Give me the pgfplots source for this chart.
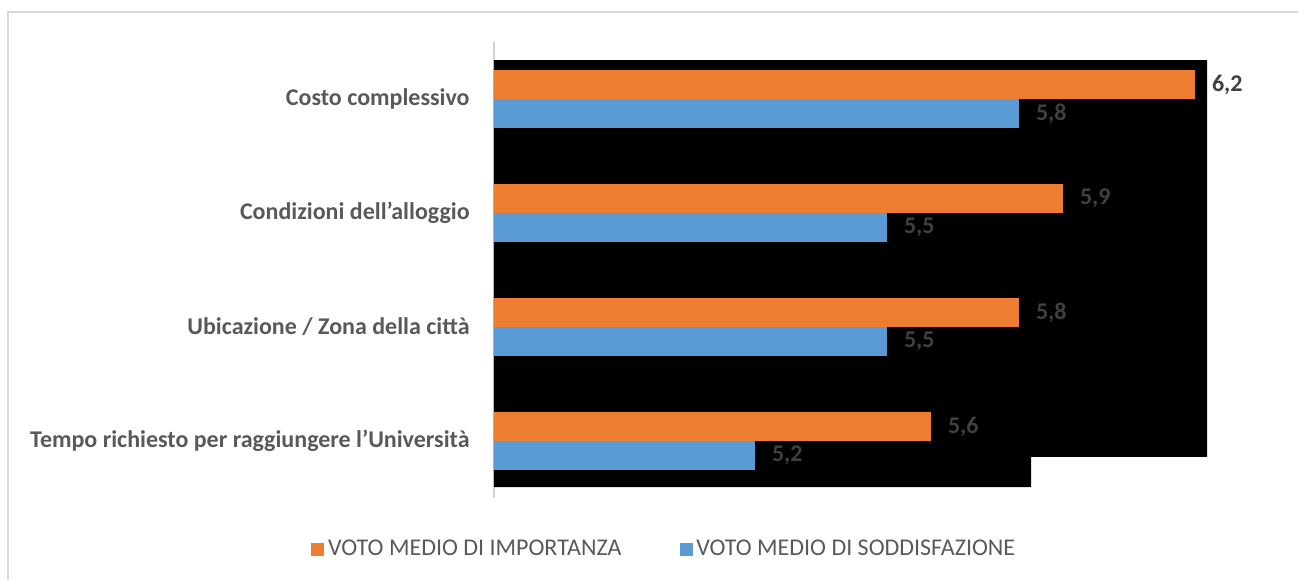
\documentclass[border=0pt]{standalone}
\usepackage{fontspec}
\setmainfont{Carlito}
\usepackage{pgfplots}
\pgfplotsset{compat=1.18}
\definecolor{imporange}{HTML}{ED7D31}
\definecolor{soddblue}{HTML}{5B9BD5}
\definecolor{labgray}{HTML}{595959}
\definecolor{valgray}{HTML}{404040}
\definecolor{framegray}{HTML}{D9D9D9}

\begin{document}
\begin{tikzpicture}
\useasboundingbox (0,0) rectangle (649pt,290pt);
% faint chart frame (left and top only are visible)
\draw[framegray, line width=0.8pt] (4pt,0pt) -- (4pt,284pt) -- (649pt,284pt);
\begin{axis}[
  at={(247pt,41pt)}, anchor=south west,
  scale only axis, width=372.5pt, height=228pt,
  xmin=4.607, xmax=6.3, ymin=-0.5, ymax=3.5,
  hide x axis,
  axis y line*=left,
  y axis line style={-, draw=gray!35, line width=0.8pt},
  ytick={0,1,2,3},
  yticklabels={Tempo richiesto per raggiungere l’Università,
               Ubicazione / Zona della città,
               Condizioni dell’alloggio,
               Costo complessivo},
  major tick length=0pt,
  yticklabel style={font=\fontsize{12}{14}\selectfont\bfseries, text=labgray,
                    anchor=east, inner sep=0pt, xshift=-12pt},
  clip=false,
  legend style={at={(0.230,-0.112)}, anchor=center, draw=none, fill=none,
                legend columns=2, font=\fontsize{12}{14}\selectfont,
                text=labgray,
                /tikz/every even column/.append style={column sep=27pt}},
  legend cell align=left,
]
% dark background block behind the bars, as in the reference
\addplot[fill=black, draw=none, forget plot]
  coordinates {(4.607,3.342) (6.2275,3.342) (6.2275,-0.140)
               (5.8275,-0.140) (5.8275,-0.404) (4.607,-0.404)};
\addplot[xbar, bar width=0.254, bar shift=0.127, fill=imporange, draw=none,
  forget plot, point meta=x,
  nodes near coords={\pgfmathprintnumber[fixed,precision=1,fixed zerofill,use comma,assume math mode=true]{\pgfplotspointmeta}},
  every node near coord/.append style={anchor=west, xshift=5pt, yshift=7.25pt,
    font=\fontsize{12}{14}\selectfont\bfseries, text=valgray}]
  coordinates {(5.6,0) (5.8,1) (5.9,2) (6.2,3)};
\addplot[xbar, bar width=0.254, bar shift=-0.127, fill=soddblue, draw=none,
  forget plot, point meta=x,
  nodes near coords={\pgfmathprintnumber[fixed,precision=1,fixed zerofill,use comma,assume math mode=true]{\pgfplotspointmeta}},
  every node near coord/.append style={anchor=west, xshift=5pt, yshift=-7.25pt,
    font=\fontsize{12}{14}\selectfont\bfseries, text=valgray}]
  coordinates {(5.2,0) (5.5,1) (5.5,2) (5.8,3)};
\addlegendimage{legend image code/.code={\fill[imporange] (0pt,-3pt) rectangle (6pt,3pt);}}
\addlegendentry{VOTO MEDIO DI IMPORTANZA}
\addlegendimage{legend image code/.code={\fill[soddblue] (0pt,-3pt) rectangle (6pt,3pt);}}
\addlegendentry{VOTO MEDIO DI SODDISFAZIONE}
\end{axis}
\end{tikzpicture}
\end{document}
